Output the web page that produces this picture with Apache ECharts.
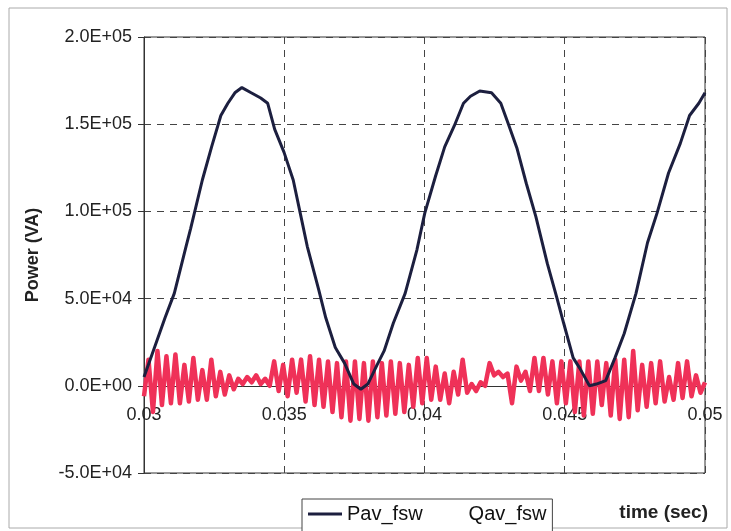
<!DOCTYPE html>
<html><head><meta charset="utf-8">
<script src="https://cdn.jsdelivr.net/npm/echarts@6/dist/echarts.min.js"></script>
<style>html,body{margin:0;padding:0;background:#fff}#c{width:731px;height:531px}</style>
</head><body><div id="c"></div>
<script>
// Pav_fsw : time (s) and power (VA)
const pavTime = [0.03,0.03033,0.03075,0.03108,0.0315,0.03166,0.03208,0.03241,0.03274,0.03299,0.03324,0.03349,0.03382,0.03416,0.03441,0.03466,0.03499,0.03532,0.03557,0.03582,0.03623,0.03648,0.03682,0.03715,0.03748,0.03773,0.03798,0.03831,0.03856,0.03889,0.03931,0.03973,0.04001,0.04039,0.04072,0.04106,0.04139,0.04164,0.04197,0.04239,0.04272,0.04297,0.0433,0.04363,0.04397,0.04438,0.04471,0.04496,0.0453,0.04554,0.04588,0.04613,0.04646,0.04679,0.04712,0.04754,0.04795,0.04829,0.0487,0.04912,0.04945,0.04978,0.05];
const pavValues = [5000,20000,39000,53000,80000,90000,118000,137000,155000,162000,168000,171000,168000,165000,162000,147000,134000,118000,99000,80000,55000,39000,22000,13000,1000,-2000,1000,12000,20000,36000,53000,78000,99000,120000,137000,149000,162000,166000,169000,168000,162000,151000,136000,116000,97000,70000,51000,36000,16000,10000,0,1000,3000,16000,30000,53000,82000,99000,122000,139000,155000,162000,168000];

// Qav_fsw : sampled every qavStep seconds from qavStart
const qavStart = 0.03, qavStep = 0.00016;
const qavValues = [-6000,15000,-15000,20000,-11000,17000,-10000,18000,-10000,12000,
 -9000,16000,-8000,9000,-8000,15000,-6000,8000,-5000,6000,
 -2000,4000,1000,5000,2000,6000,1000,4000,0,14000,
 -3000,12000,-6000,15000,-4000,15000,-9000,17000,-11000,15000,
 -12000,14000,-15000,13000,-18000,14000,-20000,14000,-19000,13000,
 -20000,14000,-18000,13000,-17000,14000,-16000,13000,-15000,12000,
 -12000,16000,-10000,16000,-8000,11000,-8000,7000,-10000,8000,
 -5000,15000,-4000,1000,-3000,2000,0,13000,6000,8000,
 5000,7000,-10000,11000,3000,8000,-3000,16000,-3000,16000,
 -5000,14000,-10000,14000,-10000,14000,-15000,14000,-17000,14000,
 -16000,14000,-11000,13000,-17000,15000,-19000,15000,-18000,20000,
 -14000,12000,-12000,13000,-10000,14000,-9000,5000,-8000,13000,
 -7000,14000,-6000,6000,-4000,2000];

const yTicks = {min:-50000, max:200000, interval:50000};
const xTicks = {min:0.03, max:0.05, interval:0.005};

const pavData = pavTime.map((t,i)=>[t, pavValues[i]]);
const qavData = qavValues.map((v,i)=>[Number((qavStart + i*qavStep).toFixed(5)), v]);

function sci(v){
  if (v === 0) return '0.0E+00';
  const s = v < 0 ? '-' : '';
  const a = Math.abs(v);
  const e = Math.floor(Math.log10(a) + 1e-9);
  const m = a / Math.pow(10, e);
  return s + m.toFixed(1) + 'E' + (e < 0 ? '-' : '+') + String(Math.abs(e)).padStart(2,'0');
}

const FONT = "'Liberation Sans', Arial, sans-serif";
const chart = echarts.init(document.getElementById('c'), null, {renderer:'canvas'});
chart.setOption({
  backgroundColor:'#fff',
  animation:false,
  grid:{left:144, right:26, top:37, bottom:58, show:true, borderColor:'#333', borderWidth:1, backgroundColor:'transparent'},
  xAxis:{
    type:'value', min:xTicks.min, max:xTicks.max, interval:xTicks.interval,
    axisLine:{onZero:true, lineStyle:{color:'#333', width:1}},
    axisTick:{show:false},
    axisLabel:{margin:-67, color:'#222', fontSize:18, fontFamily:FONT,
      formatter:v=>String(parseFloat(v.toFixed(4)))},
    splitLine:{show:true, lineStyle:{color:'#444', width:1, type:[7,6]}}
  },
  yAxis:{
    type:'value', min:yTicks.min, max:yTicks.max, interval:yTicks.interval,
    name:'Power (VA)', nameLocation:'middle', nameGap:102, nameRotate:90,
    nameTextStyle:{fontSize:18, fontWeight:'bold', color:'#222', fontFamily:FONT},
    axisLine:{show:true, lineStyle:{color:'#333', width:1}},
    axisTick:{show:true, inside:false, length:6, lineStyle:{color:'#333'}},
    axisLabel:{margin:12, color:'#222', fontSize:18, fontFamily:FONT, formatter:sci},
    splitLine:{show:true, lineStyle:{color:'#444', width:1, type:[7,6]}}
  },
  legend:{
    left:302, top:499, orient:'horizontal',
    padding:[5,6,20,6], itemGap:7, itemWidth:34, itemHeight:3,
    borderColor:'#444', borderWidth:1, backgroundColor:'#fff',
    textStyle:{fontSize:20, color:'#111', fontFamily:FONT},
    data:[
      {name:'Pav_fsw', icon:'rect', itemStyle:{color:'#1c1f3f'}},
      {name:'Qav_fsw', icon:'rect', itemStyle:{color:'rgba(0,0,0,0)'}}
    ]
  },
  graphic:[
    {type:'rect', shape:{x:9, y:8, width:718, height:520}, style:{fill:'none', stroke:'#aaa', lineWidth:1}, silent:true, z:-10},
    {type:'text', right:23, top:503, style:{text:'time (sec)', font:"bold 19px 'Liberation Sans', Arial, sans-serif", fill:'#222'}}
  ],
  series:[
    {name:'Qav_fsw', type:'line', data:qavData, showSymbol:false, symbol:'none', z:2,
     lineStyle:{color:'#ef3158', width:4.5, join:'round'}, itemStyle:{color:'#ef3158'}},
    {name:'Pav_fsw', type:'line', data:pavData, showSymbol:false, symbol:'none', z:3,
     lineStyle:{color:'#1c1f3f', width:3}, itemStyle:{color:'#1c1f3f'}}
  ]
});
</script></body></html>
